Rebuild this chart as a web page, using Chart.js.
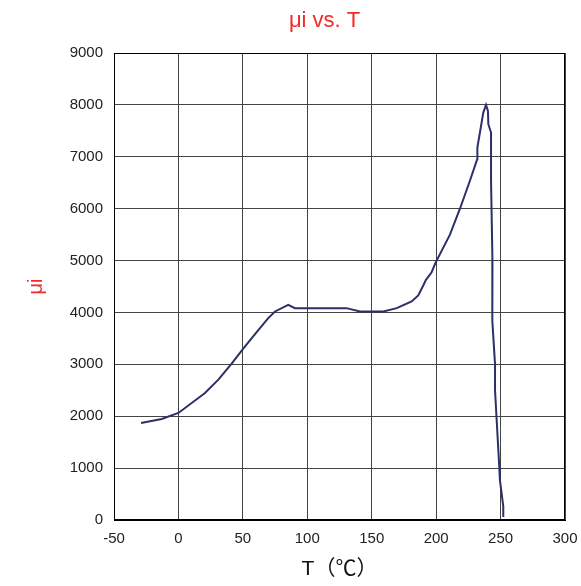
<!DOCTYPE html>
<html>
<head>
<meta charset="utf-8">
<title>μi vs. T</title>
<script src="https://cdn.jsdelivr.net/npm/chart.js@4"></script>
<style>
  html, body { margin: 0; padding: 0; background: #fff; }
  #wrap { width: 581px; height: 586px; position: relative; }
</style>
</head>
<body>
<div id="wrap"><canvas id="chart"></canvas></div>
<script>
// temperature (°C) and initial permeability
const tempC = [-29, -13, 0, 20.6, 31, 41.3, 50.3, 60.7, 69.7, 75, 85.2, 90.4,
  130.5, 140.9, 159, 169.4, 181, 186.1, 190, 192.1, 196.5, 199.4, 210.7, 218.4,
  226.2, 231.9, 232, 236.6, 238.7, 240.2, 240.5, 242.6, 242.6, 243.7, 243.6,
  245.7, 245.7, 249, 249.5, 252.1, 252.1];
const mu = [1870, 1948, 2063, 2448, 2705, 3013, 3301, 3621, 3891, 4019, 4147, 4083,
  4083, 4019, 4019, 4083, 4212, 4327, 4519, 4628, 4775, 4950, 5500, 5994,
  6538, 6955, 7179, 7852, 8000, 7885, 7628, 7467, 6538, 5000, 3840,
  3000, 2500, 1020, 770, 260, 60];

const xTicks = [-50, 0, 50, 100, 150, 200, 250, 300];
const yTicks = [0, 1000, 2000, 3000, 4000, 5000, 6000, 7000, 8000, 9000];

const titleText = "μi vs. T";
const font = "'Liberation Sans', Arial, sans-serif";

const points = tempC.map((t, i) => ({ x: t, y: mu[i] }));

// title sits a bit left of the plot centre in the original
const topTitle = {
  id: "topTitle",
  afterDraw(chart) {
    const { ctx, chartArea } = chart;
    ctx.save();
    ctx.font = "22px " + font;
    ctx.fillStyle = "#f42a2a";
    ctx.textAlign = "center";
    ctx.textBaseline = "middle";
    ctx.fillText(titleText, chartArea.left + chartArea.width * 0.467, 21);
    ctx.restore();
  }
};

new Chart(document.getElementById("chart"), {
  type: "scatter",
  data: {
    datasets: [{
      label: "μi",
      data: points,
      showLine: true,
      borderColor: "#2c2f68",
      borderWidth: 2,
      pointRadius: 0,
      tension: 0
    }]
  },
  options: {
    responsive: true,
    maintainAspectRatio: false,
    animation: false,
    layout: { padding: { top: 53, right: 16, bottom: 0, left: 0 } },
    plugins: {
      legend: { display: false },
      tooltip: { enabled: false }
    },
    scales: {
      x: {
        type: "linear",
        min: -50,
        max: 300,
        afterBuildTicks: (s) => { s.ticks = xTicks.map(v => ({ value: v })); },
        afterFit: (s) => { s.height = 66; s.paddingLeft = 0; s.paddingRight = 0; },
        ticks: { color: "#222", padding: 10, font: { family: font, size: 15 } },
        grid: { color: "#444", lineWidth: 1, drawTicks: false },
        border: { color: "#000", width: 1 },
        title: {
          display: true,
          text: "T（℃）",
          color: "#111",
          font: { family: "'Liberation Sans', 'Noto Sans CJK SC', sans-serif", size: 21 },
          padding: { top: 0, bottom: 4 }
        }
      },
      y: {
        min: 0,
        max: 9000,
        afterBuildTicks: (s) => { s.ticks = yTicks.map(v => ({ value: v })); },
        afterFit: (s) => { s.width = 114; },
        ticks: {
          color: "#222",
          padding: 11,
          font: { family: font, size: 15 },
          callback: (v) => String(v)
        },
        grid: { color: "#444", lineWidth: 1, drawTicks: false },
        border: { color: "#000", width: 1 },
        title: {
          display: true,
          text: "μi",
          color: "#f42a2a",
          font: { family: font, size: 20 },
          padding: { top: 24, bottom: 0 }
        }
      }
    }
  },
  plugins: [topTitle, {
    // right and top edges of the plot frame
    id: "frame",
    afterDraw(chart) {
      const { ctx, chartArea: a } = chart;
      ctx.save();
      ctx.strokeStyle = "#000";
      ctx.lineWidth = 1;
      ctx.strokeRect(Math.round(a.left) + 0.5, Math.round(a.top) + 0.5,
        Math.round(a.width) - 1, Math.round(a.height) - 1);
      ctx.restore();
    }
  }]
});
</script>
</body>
</html>
